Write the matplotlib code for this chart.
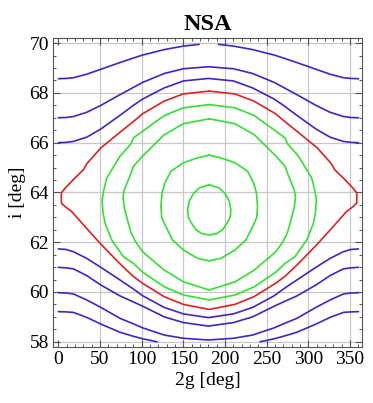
import matplotlib
matplotlib.use("Agg")
import matplotlib.pyplot as plt
from matplotlib.ticker import MultipleLocator

# Curves: x is 2g [deg], y is i [deg].

# Circulating curves above the separatrix (blue).
top1_left_x = [0, 9, 18, 34, 51, 74, 90, 101, 127, 150, 169]
top1_left_y = [68.57, 68.58, 68.61, 68.75, 68.95, 69.22, 69.40, 69.52, 69.74, 69.88, 69.95]
top1_right_x = [192, 210, 233, 259, 270, 286, 309, 326, 342, 351, 360]
top1_right_y = [69.95, 69.88, 69.74, 69.52, 69.40, 69.22, 68.95, 68.75, 68.61, 68.58, 68.57]

open_x = [0, 9, 18, 34, 51, 74, 90, 101, 127, 150, 180, 210, 233, 259, 270, 286, 309, 326, 342, 351, 360]
top2_y = [67.00, 67.01, 67.05, 67.22, 67.50, 67.93, 68.22, 68.42, 68.78, 68.97, 69.05,
          68.97, 68.78, 68.42, 68.22, 67.93, 67.50, 67.22, 67.05, 67.01, 67.00]
top3_y = [66.00, 66.01, 66.05, 66.22, 66.55, 67.10, 67.50, 67.75, 68.20, 68.48, 68.58,
          68.48, 68.20, 67.75, 67.50, 67.10, 66.55, 66.22, 66.05, 66.01, 66.00]

# Circulating curves below the separatrix (blue).
bot1_y = [61.73, 61.71, 61.62, 61.35, 60.99, 60.48, 60.12, 59.85, 59.38, 59.12, 58.97,
          59.12, 59.38, 59.85, 60.12, 60.48, 60.99, 61.35, 61.62, 61.71, 61.73]
bot2_y = [60.99, 60.97, 60.93, 60.66, 60.28, 59.84, 59.60, 59.43, 59.00, 58.77, 58.63,
          58.77, 59.00, 59.43, 59.60, 59.84, 60.28, 60.66, 60.93, 60.97, 60.99]
bot3_y = [59.97, 59.96, 59.92, 59.68, 59.38, 58.94, 58.72, 58.56, 58.27, 58.14, 58.07,
          58.14, 58.27, 58.56, 58.72, 58.94, 59.38, 59.68, 59.92, 59.96, 59.97]
bot4_left_x = [0, 9, 18, 34, 51, 74, 90, 101, 118.5]
bot4_left_y = [59.21, 59.20, 59.18, 58.98, 58.71, 58.38, 58.22, 58.12, 58.00]
bot4_right_x = [242, 259, 270, 286, 309, 326, 342, 351, 360]
bot4_right_y = [58.00, 58.12, 58.22, 58.38, 58.71, 58.98, 59.18, 59.20, 59.21]

# Separatrix (red), closed loop starting at the top centre.
sep_x = [181, 150, 127, 101, 90, 74, 51, 34, 30, 18, 8, 3.6, 3.6, 8, 16, 34, 51, 74, 90, 101, 127, 150, 181,
         211.6, 234.6, 260.6, 271.6, 287.6, 310.6, 327.6, 345.6, 353.6, 358, 358, 353.6, 343.6, 331.6,
         327.6, 310.6, 287.6, 271.6, 260.6, 234.6, 211.6, 181]
sep_y = [68.07, 67.96, 67.67, 67.16, 66.85, 66.42, 65.79, 65.15, 64.91, 64.52, 64.17, 63.98, 63.57, 63.43,
         63.23, 62.55, 61.92, 61.13, 60.62, 60.35, 59.81, 59.50, 59.30,
         59.50, 59.81, 60.35, 60.62, 61.13, 61.92, 62.55, 63.23, 63.43, 63.57, 63.98, 64.17, 64.52,
         64.91, 65.15, 65.79, 66.42, 66.85, 67.16, 67.67, 67.96, 68.07]

# Librating curves (green), closed loops starting at the top centre.
lib1_x = [181, 150, 127, 101, 90, 87, 74, 58, 54.5, 52.5, 53.5, 56, 64, 78, 90, 101, 127, 150, 181,
          212, 235, 261, 272, 284, 298, 306, 308.5, 309.5, 307.5, 304, 288, 275, 272, 261, 235, 212, 181]
lib1_y = [67.53, 67.40, 67.09, 66.46, 66.19, 65.95, 65.46, 64.58, 64.10, 63.70, 63.20, 62.76, 62.09,
          61.42, 61.15, 60.80, 60.21, 59.88, 59.68,
          59.88, 60.21, 60.80, 61.15, 61.42, 62.09, 62.76, 63.20, 63.70, 64.10, 64.58, 65.46, 65.95,
          66.19, 66.46, 67.09, 67.40, 67.53]
lib2_x = [181, 150, 127, 101, 90, 86.5, 79, 77.5, 79, 84, 87, 92, 101, 127, 150, 181,
          212, 235, 261, 270, 275, 278, 283, 284.5, 283, 275.5, 272, 261, 235, 212, 181]
lib2_y = [66.96, 66.76, 66.32, 65.46, 65.05, 64.72, 64.10, 63.80, 63.40, 62.76, 62.40, 62.05, 61.62,
          60.88, 60.41, 60.08,
          60.41, 60.88, 61.62, 62.05, 62.40, 62.76, 63.40, 63.80, 64.10, 64.72, 65.05, 65.46, 66.32,
          66.76, 66.96]
lib3_x = [181, 167, 150, 135, 128, 124.5, 123, 124, 127, 137, 150, 167, 181,
          195, 212, 225, 235, 238, 239, 237.5, 234, 227, 212, 195, 181]
lib3_y = [65.50, 65.39, 65.19, 64.85, 64.40, 64.00, 63.45, 63.00, 62.76, 62.09, 61.69, 61.35, 61.25,
          61.35, 61.69, 62.09, 62.76, 63.00, 63.45, 64.00, 64.40, 64.85, 65.19, 65.39, 65.50]
lib4_x = [181, 169, 162, 157, 155, 156, 159, 165, 172, 181, 190, 197, 203, 206, 207, 205, 200, 193, 181]
lib4_y = [64.31, 64.18, 63.95, 63.65, 63.30, 63.00, 62.80, 62.50, 62.35, 62.29, 62.35, 62.50, 62.80,
          63.00, 63.30, 63.65, 63.95, 64.18, 64.31]

blue = "#4422cc"
red = "#dd2222"
green = "#33e033"

plt.rcParams["font.family"] = ["Liberation Serif", "DejaVu Serif"]

fig = plt.figure(figsize=(3.73, 4.03), dpi=100)
ax = fig.add_axes([0.142, 0.139, 0.829, 0.767])

lw = 1.2
style = dict(lw=lw, solid_joinstyle="round", solid_capstyle="round")
# Blue, above.
ax.plot(top1_left_x, top1_left_y, color=blue, **style)
ax.plot(top1_right_x, top1_right_y, color=blue, **style)
ax.plot(open_x, top2_y, color=blue, **style)
ax.plot(open_x, top3_y, color=blue, **style)
# Blue, below.
ax.plot(open_x, bot1_y, color=blue, **style)
ax.plot(open_x, bot2_y, color=blue, **style)
ax.plot(open_x, bot3_y, color=blue, **style)
ax.plot(bot4_left_x, bot4_left_y, color=blue, **style)
ax.plot(bot4_right_x, bot4_right_y, color=blue, **style)
# Separatrix.
ax.plot(sep_x, sep_y, color=red, **style)
# Green.
for xs, ys in [(lib1_x, lib1_y), (lib2_x, lib2_y), (lib3_x, lib3_y), (lib4_x, lib4_y)]:
    ax.plot(xs, ys, color=green, **style)

ax.set_xlim(-6.5, 364.5)
ax.set_ylim(57.79, 70.21)

ax.xaxis.set_major_locator(MultipleLocator(50))
ax.xaxis.set_minor_locator(MultipleLocator(10))
ax.yaxis.set_major_locator(MultipleLocator(2))
ax.yaxis.set_minor_locator(MultipleLocator(0.5))

# Grid lines (not at x=0).
for gx in [50, 100, 150, 200, 250, 300, 350]:
    ax.axvline(gx, color="#c8c8c8", lw=0.9, zorder=0)
for gy in [58, 60, 62, 64, 66, 68, 70]:
    ax.axhline(gy, color="#c8c8c8", lw=0.9, zorder=0)

ax.tick_params(which="both", direction="in", top=True, right=True, color="#555555")
ax.tick_params(which="major", length=5, width=0.8, labelsize=14, pad=3)
ax.tick_params(which="minor", length=2.5, width=0.7)
for spine in ax.spines.values():
    spine.set_color("#555555")
    spine.set_linewidth(0.8)

ax.set_title("NSA", fontsize=17.5, fontweight="bold", pad=6)
ax.set_xlabel("2g [deg]", fontsize=14, labelpad=3)
ax.set_ylabel("i [deg]", fontsize=14, labelpad=2)

fig.savefig("out.png", dpi=100)
